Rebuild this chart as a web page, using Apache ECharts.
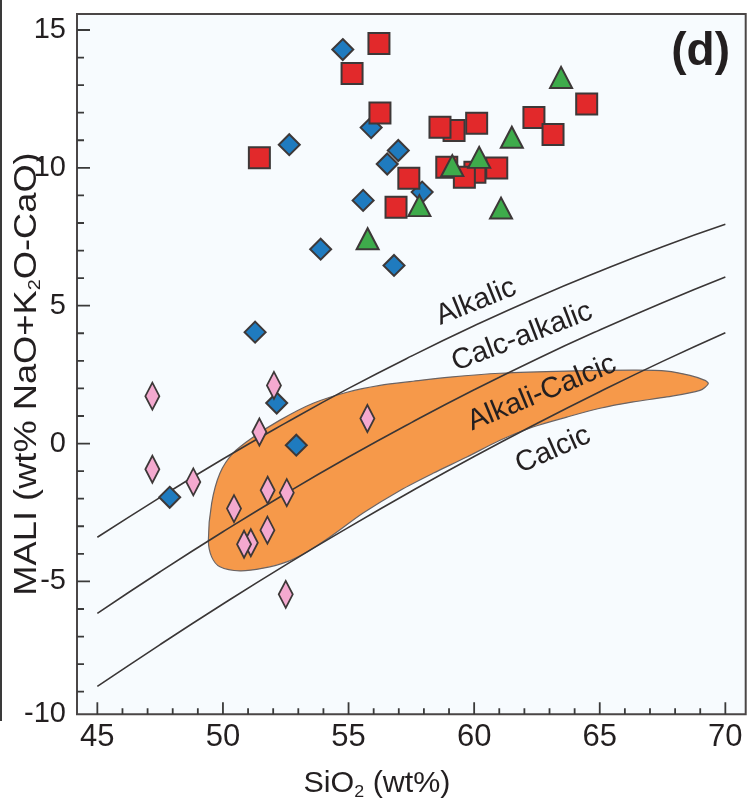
<!DOCTYPE html>
<html>
<head>
<meta charset="utf-8">
<script src="https://cdn.jsdelivr.net/npm/echarts@6/dist/echarts.min.js"></script>
<style>
  html, body { margin: 0; padding: 0; background: #ffffff; }
  #chart { width: 750px; height: 800px; }
</style>
</head>
<body>
<div id="chart"></div>
<script>
// MALI vs SiO2 classification diagram (Frost et al. style), panel (d)

// Axis extents and tick marks
const xMin = 44.19, xMax = 70.81;
const yMin = -9.82, yMax = 15.58;
const xTickValues = [45, 50, 55, 60, 65, 70];
const xTickLabels = ['45', '50', '55', '60', '65', '70'];
const yTickValues = [-10, -5, 0, 5, 10, 15];
const yTickLabels = ['-10', '-5', '0', '5', '10', '15'];
const xMinorValues = [45,46,47,48,49,50,51,52,53,54,55,56,57,58,59,60,61,62,63,64,65,66,67,68,69,70];
const yMinorValues = [-9,-8,-7,-6,-5,-4,-3,-2,-1,0,1,2,3,4,5,6,7,8,9,10,11,12,13,14,15];

// Field boundaries: alkalic / calc-alkalic / alkali-calcic / calcic
const boundarySiO2     = [45, 47.5, 50, 52.5, 55, 57.5, 60, 62.5, 65, 67.5, 70];
const alkalicLine      = [-3.40, -1.95, -0.56, 0.75, 2.00, 3.17, 4.27, 5.30, 6.25, 7.14, 7.95];
const calcAlkalicLine  = [-6.16, -4.65, -3.20, -1.81, -0.49, 0.76, 1.95, 3.07, 4.12, 5.11, 6.04];
const alkaliCalcicLine = [-8.81, -7.29, -5.82, -4.40, -3.04, -1.73, -0.47, 0.73, 1.88, 2.98, 4.02];

// Orange compositional field outline
const fieldSiO2 = [49.42, 49.55, 49.88, 50.40, 51.20, 52.27, 53.59, 54.94, 56.25, 57.57, 59.04, 61.03,
                   63.69, 66.33, 67.67, 68.59, 69.19, 69.32, 68.99, 67.67, 66.33, 65.01, 63.69, 62.34,
                   61.03, 59.71, 58.36, 57.05, 55.58, 54.26, 53.34, 52.54, 51.60, 50.68, 49.88, 49.55];
const fieldMALI = [-3.51, -2.17, -1.08, -0.35, 0.23, 0.85, 1.46, 1.86, 2.11, 2.26, 2.41, 2.55,
                   2.63, 2.66, 2.63, 2.47, 2.29, 2.17, 1.93, 1.69, 1.51, 1.28, 0.96, 0.60,
                   0.12, -0.49, -1.08, -1.70, -2.52, -3.39, -3.93, -4.29, -4.52, -4.62, -4.47, -4.11];

// Samples
const blueSiO2 = [54.77, 55.90, 52.64, 56.98, 56.54, 55.58, 57.93, 53.89, 56.81, 51.28, 52.14, 52.92, 47.88];
const blueMALI = [14.29, 11.46, 10.84, 10.63, 10.14, 8.82, 9.12, 7.05, 6.46, 4.04, 1.47, -0.06, -1.95];

const pinkSiO2 = [47.19, 52.03, 51.45, 55.75, 47.19, 48.82, 50.44, 51.78, 52.54, 51.77, 51.11, 50.84, 52.50];
const pinkMALI = [1.72, 2.11, 0.42, 0.91, -0.93, -1.39, -2.36, -1.69, -1.78, -3.14, -3.60, -3.65, -5.47];

const redSiO2 = [56.21, 55.14, 56.25, 51.45, 64.48, 62.38, 63.14, 59.20, 58.64, 60.10, 57.40, 56.89, 60.03, 58.91, 59.61, 60.90];
const redMALI = [14.51, 13.42, 11.99, 10.37, 12.32, 11.83, 11.21, 11.35, 11.47, 11.62, 9.62, 8.57, 9.84, 10.02, 9.66, 9.99];

const greenSiO2 = [63.46, 61.50, 59.13, 60.20, 57.82, 55.76, 61.07];
const greenMALI = [13.28, 11.11, 10.08, 10.38, 8.63, 7.43, 8.54];

const FONT = 'Liberation Sans, Arial, Helvetica, sans-serif';
const INK = '#231f20';
const EDGE = '#3d3838';
const FRAME = '#4a4646';
const TICK = '#3a3a3a';

function pairs(xs, ys) { return xs.map((x, i) => [x, ys[i]]); }
function nearestLabel(v, values, labels) {
  let best = 0;
  for (let i = 1; i < values.length; i++) {
    if (Math.abs(values[i] - v) < Math.abs(values[best] - v)) best = i;
  }
  return labels[best];
}

// Inward tick marks drawn as short segments separated by gaps; long at labelled values
const xTickLen = 12 / 27.6, yTickLen = 13 / 25.12;
function xTickSegments() {
  const out = [];
  xMinorValues.forEach(v => {
    const len = xTickValues.indexOf(v) >= 0 ? xTickLen : xTickLen / 2;
    out.push([v, yMin], [v, yMin + len], '-');
  });
  return out;
}
function yTickSegments() {
  const out = [];
  yMinorValues.forEach(v => {
    const len = yTickValues.indexOf(v) >= 0 ? yTickLen : yTickLen * 7 / 13;
    out.push([xMin, v], [xMin + len, v], '-');
  });
  return out;
}

const chart = echarts.init(document.getElementById('chart'), null, { renderer: 'canvas' });

const option = {
  animation: false,
  backgroundColor: '#ffffff',
  grid: {
    left: 77, top: 14, width: 668.7, height: 700.3,
    show: true, backgroundColor: '#f7fbfe', borderColor: FRAME, borderWidth: 2
  },
  xAxis: {
    type: 'value', min: xMin, max: xMax, position: 'bottom',
    axisLine: { show: false, onZero: false }, splitLine: { show: false }, axisTick: { show: false },
    axisLabel: {
      customValues: xTickValues, margin: 8, fontSize: 31, color: INK, fontFamily: FONT,
      formatter: v => nearestLabel(v, xTickValues, xTickLabels)
    }
  },
  yAxis: {
    type: 'value', min: yMin, max: yMax, position: 'left',
    axisLine: { show: false, onZero: false }, splitLine: { show: false }, axisTick: { show: false },
    axisLabel: {
      customValues: yTickValues.map(v => Math.max(v, yMin)), margin: 11, fontSize: 29, color: INK, fontFamily: FONT,
      formatter: v => nearestLabel(v, yTickValues, yTickLabels)
    }
  },
  series: [
    {
      type: 'line', z: 7, silent: true, symbol: 'none', connectNulls: false, clip: false,
      lineStyle: { color: TICK, width: 1.8 },
      data: xTickSegments()
    },
    {
      type: 'line', z: 7, silent: true, symbol: 'none', connectNulls: false, clip: false,
      lineStyle: { color: TICK, width: 1.8 },
      data: yTickSegments()
    },
    {
      type: 'custom', z: 1, silent: true,
      data: [[fieldSiO2[0], fieldMALI[0]]],
      renderItem: function (params, api) {
        const pts = fieldSiO2.map((x, i) => api.coord([x, fieldMALI[i]]));
        return {
          type: 'polygon',
          shape: { points: pts, smooth: 0.3 },
          style: { fill: '#f6994a', stroke: '#6a6363', lineWidth: 1.2 }
        };
      }
    },
    {
      type: 'line', z: 2, silent: true, smooth: true, symbol: 'none',
      lineStyle: { color: '#3a3636', width: 1.6 },
      data: pairs(boundarySiO2, alkalicLine)
    },
    {
      type: 'line', z: 2, silent: true, smooth: true, symbol: 'none',
      lineStyle: { color: '#3a3636', width: 1.6 },
      data: pairs(boundarySiO2, calcAlkalicLine)
    },
    {
      type: 'line', z: 2, silent: true, smooth: true, symbol: 'none',
      lineStyle: { color: '#3a3636', width: 1.6 },
      data: pairs(boundarySiO2, alkaliCalcicLine)
    },
    {
      type: 'scatter', z: 3, symbol: 'diamond', symbolSize: 21,
      itemStyle: { color: '#1f7bbf', borderColor: EDGE, borderWidth: 2, opacity: 1 },
      data: pairs(blueSiO2, blueMALI)
    },
    {
      type: 'scatter', z: 4, symbol: 'diamond', symbolSize: [14, 27],
      itemStyle: { color: '#f4a9cf', borderColor: EDGE, borderWidth: 2, opacity: 1 },
      data: pairs(pinkSiO2, pinkMALI)
    },
    {
      type: 'scatter', z: 5, symbol: 'rect', symbolSize: 21,
      itemStyle: { color: '#e2292b', borderColor: EDGE, borderWidth: 2, opacity: 1 },
      data: pairs(redSiO2, redMALI)
    },
    {
      type: 'scatter', z: 6, symbol: 'triangle', symbolSize: [22, 21],
      itemStyle: { color: '#3eab4b', borderColor: EDGE, borderWidth: 2, opacity: 1 },
      data: pairs(greenSiO2, greenMALI)
    }
  ],
  graphic: [
    // panel border strip on the far left
    { type: 'line', z: 10, shape: { x1: 1, y1: 0, x2: 1, y2: 721 }, style: { stroke: '#3a3a3a', lineWidth: 2 } },
    // panel tag
    {
      type: 'text', z: 10, x: 730, y: 52,
      style: { text: '(d)', font: 'bold 46px ' + FONT, fill: INK, align: 'right', verticalAlign: 'middle' }
    },
    // field names along the boundaries
    {
      type: 'text', z: 10, x: 476, y: 302, rotation: 22 * Math.PI / 180,
      style: { text: 'Alkalic', font: '29px ' + FONT, fill: INK, align: 'center', verticalAlign: 'middle' }
    },
    {
      type: 'text', z: 10, x: 522, y: 337, rotation: 21 * Math.PI / 180,
      style: { text: 'Calc-alkalic', font: '29px ' + FONT, fill: INK, align: 'center', verticalAlign: 'middle' }
    },
    {
      type: 'text', z: 10, x: 542, y: 393, rotation: 22.5 * Math.PI / 180,
      style: { text: 'Alkali-Calcic', font: '29px ' + FONT, fill: INK, align: 'center', verticalAlign: 'middle' }
    },
    {
      type: 'text', z: 10, x: 553, y: 450, rotation: 24 * Math.PI / 180,
      style: { text: 'Calcic', font: '29px ' + FONT, fill: INK, align: 'center', verticalAlign: 'middle' }
    },
    // axis titles
    {
      type: 'text', z: 10, x: 377, y: 784, scaleX: 1.05,
      style: {
        text: '{m|SiO}{s|2}{m| (wt%)}', align: 'center', verticalAlign: 'middle',
        rich: {
          m: { font: '29px ' + FONT, fill: INK, lineHeight: 34 },
          s: { font: '17px ' + FONT, fill: INK, lineHeight: 17, verticalAlign: 'bottom' }
        }
      }
    },
    {
      type: 'text', z: 10, x: 27, y: 374, rotation: Math.PI / 2, scaleX: 1.17,
      style: {
        text: '{m|MALI (wt% NaO+K}{s|2}{m|O-CaO)}', align: 'center', verticalAlign: 'middle',
        rich: {
          m: { font: '31px ' + FONT, fill: INK, lineHeight: 34 },
          s: { font: '17px ' + FONT, fill: INK, lineHeight: 17, verticalAlign: 'bottom' }
        }
      }
    }
  ]
};

chart.setOption(option);
</script>
</body>
</html>
